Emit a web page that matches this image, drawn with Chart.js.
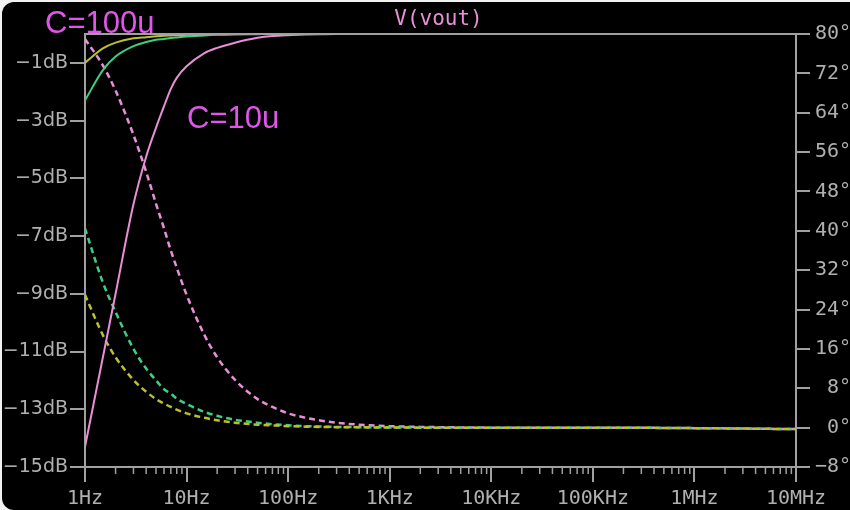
<!DOCTYPE html>
<html>
<head>
<meta charset="utf-8">
<script src="https://cdn.jsdelivr.net/npm/chart.js@4"></script>
<style>
  html, body { margin: 0; padding: 0; background: #f2f2f2; }
  #frame { position: absolute; left: 2px; top: 2px; width: 848px; height: 508px; background: #000; border-radius: 12px 0 0 12px; }
  #plot { position: absolute; left: 0; top: 0; }
</style>
</head>
<body>
<div id="frame"></div>
<canvas id="plot" width="850" height="510"></canvas>
<script>
const freqHz = [1, 1.5, 2, 3, 4, 5, 6, 7, 8, 10, 15, 20, 30, 50, 70, 100, 150, 200, 300, 500,
  1e3, 2e3, 5e3, 1e4, 1e5, 1e6, 1e7];

// magnitude, dB
const magYellow = [-1.0, -0.5, -0.3, -0.15, -0.11, -0.08, -0.06, -0.05, -0.04, -0.03, -0.015, -0.01, 0, 0, 0, 0, 0, 0, 0, 0,
  0, 0, 0, 0, 0, 0, 0];
const magGreen = [-2.3, -1.25, -0.78, -0.42, -0.28, -0.2, -0.17, -0.14, -0.12, -0.09, -0.05, -0.03, -0.015, -0.005, 0, 0, 0, 0, 0, 0,
  0, 0, 0, 0, 0, 0, 0];
const magPink = [-14.3, -11.2, -9.0, -5.9, -4.25, -3.25, -2.5, -1.9, -1.52, -1.12, -0.66, -0.48, -0.3, -0.13, -0.07, -0.04, -0.02, -0.01, 0, 0,
  0, 0, 0, 0, 0, 0, 0];

// phase, degrees
const phYellow = [27.0, 18.8, 14.3, 9.7, 7.3, 5.8, 4.9, 4.2, 3.65, 2.9, 2.0, 1.5, 1.0, 0.6, 0.45, 0.3, 0.2, 0.15, 0.1, 0.06,
  0.03, 0, 0, 0, 0, -0.1, -0.3];
const phGreen = [40.5, 29.5, 23.5, 16.0, 12.0, 9.6, 7.8, 6.9, 5.9, 4.8, 3.2, 2.4, 1.6, 1.0, 0.7, 0.5, 0.3, 0.25, 0.15, 0.1,
  0.05, 0, 0, 0, 0, -0.1, -0.3];
const phPink = [79.0, 73.6, 68.5, 59.5, 52.0, 45.5, 40.5, 36.0, 32.5, 27.0, 18.8, 14.3, 9.7, 5.8, 4.2, 2.9, 2.0, 1.5, 1.0, 0.6,
  0.3, 0.15, 0.05, 0, 0, -0.1, -0.3];

// axis ticks
const decadeTicks = [1, 10, 100, 1e3, 1e4, 1e5, 1e6, 1e7];
const decadeLabels = ["1Hz", "10Hz", "100Hz", "1KHz", "10KHz", "100KHz", "1MHz", "10MHz"];
const dbTicks = [-15, -13, -11, -9, -7, -5, -3, -1];
const degTicks = [-8, 0, 8, 16, 24, 32, 40, 48, 56, 64, 72, 80];

const traceTitle = "V(vout)";
const notes = [
  { text: "C=100u", x: 45, y: 33 },
  { text: "C=10u", x: 187, y: 128 }
];

const YELLOW = "#bcc02a";
const GREEN = "#3ecd84";
const PINK = "#e88fd6";
const AXIS = "#a0a0a0";
const TEXT = "#b0b0b0";
const MONO = "'DejaVu Sans Mono', monospace";

const pts = arr => freqHz.map((f, i) => ({ x: f, y: arr[i] }));

function trace(data, color, axis, dashed) {
  return {
    data: pts(data),
    yAxisID: axis,
    borderColor: color,
    borderWidth: dashed ? 2.5 : 2,
    borderDash: dashed ? [6, 4] : [],
    pointRadius: 0,
    fill: false,
    cubicInterpolationMode: "monotone"
  };
}

const decorations = {
  id: "decorations",
  afterDraw(chart) {
    const ctx = chart.ctx;
    const a = chart.chartArea;
    const xs = chart.scales.x;
    ctx.save();
    // top edge of the plot box
    ctx.strokeStyle = AXIS;
    ctx.lineWidth = 2;
    ctx.beginPath();
    ctx.moveTo(a.left, a.top);
    ctx.lineTo(a.right, a.top);
    ctx.stroke();
    // minor log ticks
    ctx.lineWidth = 1.5;
    for (let d = 0; d < 7; d++) {
      for (let k = 2; k <= 9; k++) {
        const px = xs.getPixelForValue(k * Math.pow(10, d));
        ctx.beginPath();
        ctx.moveTo(px, a.bottom);
        ctx.lineTo(px, a.bottom + 7);
        ctx.stroke();
      }
    }
    // trace name
    ctx.fillStyle = PINK;
    ctx.font = "21px " + MONO;
    ctx.textAlign = "center";
    ctx.textBaseline = "middle";
    ctx.fillText(traceTitle, (a.left + a.right) / 2 - 2, 20);
    // annotations
    ctx.fillStyle = "#e055ea";
    ctx.font = "31px 'Liberation Sans', Arial, sans-serif";
    ctx.textAlign = "left";
    ctx.textBaseline = "alphabetic";
    notes.forEach(n => ctx.fillText(n.text, n.x, n.y));
    ctx.restore();
  }
};

new Chart(document.getElementById("plot"), {
  type: "line",
  data: {
    datasets: [
      trace(magYellow, YELLOW, "y", false),
      trace(magGreen, GREEN, "y", false),
      trace(magPink, PINK, "y", false),
      trace(phYellow, YELLOW, "y1", true),
      trace(phGreen, GREEN, "y1", true),
      trace(phPink, PINK, "y1", true)
    ]
  },
  options: {
    responsive: false,
    animation: false,
    devicePixelRatio: 1,
    layout: { padding: { top: 34, left: 0, right: 0, bottom: 0 } },
    plugins: { legend: { display: false }, title: { display: false }, tooltip: { enabled: false } },
    scales: {
      x: {
        type: "logarithmic",
        min: 1,
        max: 1e7,
        afterBuildTicks: s => { s.ticks = decadeTicks.map(v => ({ value: v })); },
        afterFit: s => { s.height = 43; },
        ticks: {
          autoSkip: false,
          maxRotation: 0,
          padding: 5,
          color: TEXT,
          font: { family: MONO, size: 20 },
          callback: (v, i) => decadeLabels[i]
        },
        grid: { drawOnChartArea: false, color: AXIS, lineWidth: 2, tickLength: 15 },
        border: { color: AXIS, width: 2 }
      },
      y: {
        type: "linear",
        position: "left",
        min: -15,
        max: 0,
        afterBuildTicks: s => { s.ticks = dbTicks.map(v => ({ value: v })); },
        afterFit: s => { s.width = 85; },
        ticks: {
          padding: 2,
          color: TEXT,
          font: { family: "'DejaVu Sans', sans-serif", size: 19 },
          callback: v => "\u2212" + Math.abs(v) + "dB"
        },
        grid: { drawOnChartArea: false, color: AXIS, lineWidth: 2, tickLength: 15 },
        border: { color: AXIS, width: 2 }
      },
      y1: {
        type: "linear",
        position: "right",
        min: -8,
        max: 80,
        afterBuildTicks: s => { s.ticks = degTicks.map(v => ({ value: v })); },
        afterFit: s => { s.width = 54; },
        ticks: {
          padding: 5,
          color: TEXT,
          font: { family: MONO, size: 20 },
          callback: v => (v < 0 ? "\u2212" + Math.abs(v) : (v < 10 ? " " + v : "" + v)) + "\u00b0"
        },
        grid: { drawOnChartArea: false, color: AXIS, lineWidth: 2, tickLength: 14 },
        border: { color: AXIS, width: 2 }
      }
    }
  },
  plugins: [decorations]
});
</script>
</body>
</html>
